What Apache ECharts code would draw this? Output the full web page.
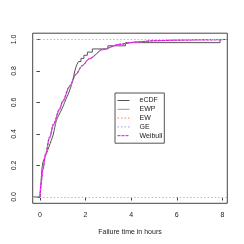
<!DOCTYPE html>
<html><head><meta charset="utf-8">
<script src="https://cdn.jsdelivr.net/npm/echarts@6/dist/echarts.min.js"></script>
<style>html,body{margin:0;padding:0;background:#fff}#c{width:244px;height:244px}</style>
</head><body><div id="c"></div>
<script>
// Observed failure times (hours), read from the eCDF steps
const failureTimes = [0.02,0.03,0.04,0.05,0.05,0.06,0.07,0.08,0.09,0.11,
  0.13,0.18,0.24,0.30,0.35,0.40,0.45,0.50,0.55,0.59,
  0.62,0.65,0.68,0.71,0.76,0.83,0.90,0.97,1.03,1.08,
  1.14,1.20,1.26,1.31,1.36,1.40,1.44,1.47,1.50,1.53,
  1.57,1.62,1.69,1.80,1.93,2.08,2.30,2.98,3.75,7.90];
// Grid of x values for fitted CDF curves
const curveX   = [0, 0.05, 0.13, 0.25, 0.42, 0.6, 0.86, 1.0, 1.3, 1.59, 1.85, 2.17, 2.76, 3.49, 4.22, 5, 6, 7, 8];
const ewpF     = [0, 0.085, 0.17, 0.265, 0.37, 0.455, 0.55, 0.6, 0.698, 0.778, 0.832, 0.876, 0.935, 0.969, 0.984, 0.992, 0.996, 0.998, 0.999];
const ewF      = [0, 0.09, 0.176, 0.275, 0.38, 0.465, 0.56, 0.61, 0.705, 0.782, 0.835, 0.879, 0.938, 0.97, 0.984, 0.992, 0.996, 0.998, 0.999];
const geF      = [0, 0.09, 0.176, 0.275, 0.38, 0.465, 0.56, 0.61, 0.705, 0.782, 0.835, 0.879, 0.938, 0.97, 0.984, 0.992, 0.996, 0.998, 0.999];
const weibullF = [0, 0.09, 0.176, 0.275, 0.38, 0.465, 0.56, 0.61, 0.705, 0.782, 0.835, 0.879, 0.938, 0.97, 0.984, 0.992, 0.996, 0.998, 0.999];
const xTicks = [0, 2, 4, 6, 8];
const yTicks = [0, 0.2, 0.4, 0.6, 0.8, 1.0];
const legendNames = ['eCDF', 'EWP', 'EW', 'GE', 'Weibull'];

const XMIN = -0.316, XMAX = 8.216;
const n = failureTimes.length;
const ecdfData = [[XMIN, 0]];
failureTimes.forEach((t, i) => ecdfData.push([t, (i + 1) / n]));
ecdfData.push([XMAX, 1]);
const pairs = f => curveX.map((x, i) => [x, f[i]]);

const FONT = 'Liberation Sans, Arial, sans-serif';
const chart = echarts.init(document.getElementById('c'), null, {renderer: 'canvas'});
chart.setOption({
  animation: false,
  backgroundColor: '#fff',
  grid: {left: 32.7, right: 16.7, top: 33.2, bottom: 40.7, show: true, borderColor: '#444', borderWidth: 1,
    backgroundColor: 'transparent', containLabel: false, outerBoundsMode: 'none'},
  xAxis: {
    type: 'value', min: XMIN, max: XMAX,
    name: 'Failure time in hours', nameLocation: 'middle', nameGap: 25,
    nameTextStyle: {fontFamily: FONT, fontSize: 7, color: '#222'},
    axisLine: {show: false},
    splitLine: {show: false},
    axisTick: {show: true, length: 3.5, customValues: xTicks, lineStyle: {color: '#444'}},
    axisLabel: {customValues: xTicks, fontFamily: FONT, fontSize: 7, color: '#222', margin: 8.5}
  },
  yAxis: {
    type: 'value', min: -0.04, max: 1.04,
    name: 'CDF', nameLocation: 'middle', nameGap: 31, nameRotate: 90,
    nameTextStyle: {fontFamily: FONT, fontSize: 7, color: '#222'},
    axisLine: {show: false},
    splitLine: {show: false},
    axisTick: {show: true, length: 3.5, customValues: yTicks, lineStyle: {color: '#444'}},
    axisLabel: {customValues: yTicks, rotate: 90, fontFamily: FONT, fontSize: 7, color: '#222', margin: 15,
      formatter: v => v.toFixed(1)}
  },
  legend: {
    orient: 'vertical', left: 115, top: 93,
    data: legendNames,
    itemWidth: 12, itemHeight: 8, itemGap: 1.8,
    padding: [4, 2, 4, 2],
    borderColor: '#555', borderWidth: 1, borderRadius: 0,
    itemStyle: {opacity: 0},
    lineStyle: {width: 1},
    textStyle: {fontFamily: FONT, fontSize: 7, color: '#222', padding: [0, 0, 0, 5]}
  },
  series: [
    {name: 'eCDF', type: 'line', step: 'end', data: ecdfData, symbol: 'none',
      lineStyle: {color: '#555', width: 1}, itemStyle: {color: '#555'},
      markLine: {silent: true, symbol: 'none', label: {show: false},
        lineStyle: {color: '#bbb', type: [1.5, 2], width: 1},
        data: [{yAxis: 0}, {yAxis: 1}]}},
    {name: 'EWP', type: 'line', data: pairs(ewpF), symbol: 'none', smooth: 0.3, smoothMonotone: 'x',
      lineStyle: {color: '#999', width: 1}, itemStyle: {color: '#999'}},
    {name: 'EW', type: 'line', data: pairs(ewF), symbol: 'none', smooth: 0.3, smoothMonotone: 'x',
      lineStyle: {color: '#ff7070', width: 1, type: [1.5, 2]}, itemStyle: {color: '#ff7070'}},
    {name: 'GE', type: 'line', data: pairs(geF), symbol: 'none', smooth: 0.3, smoothMonotone: 'x',
      lineStyle: {color: '#9a9aff', width: 1, type: [1.5, 2]}, itemStyle: {color: '#9a9aff'}},
    {name: 'Weibull', type: 'line', data: pairs(weibullF), symbol: 'none', smooth: 0.3, smoothMonotone: 'x',
      lineStyle: {color: '#ee00ee', width: 1, type: [3, 1]}, itemStyle: {color: '#ee00ee'}}
  ]
});
</script></body></html>
